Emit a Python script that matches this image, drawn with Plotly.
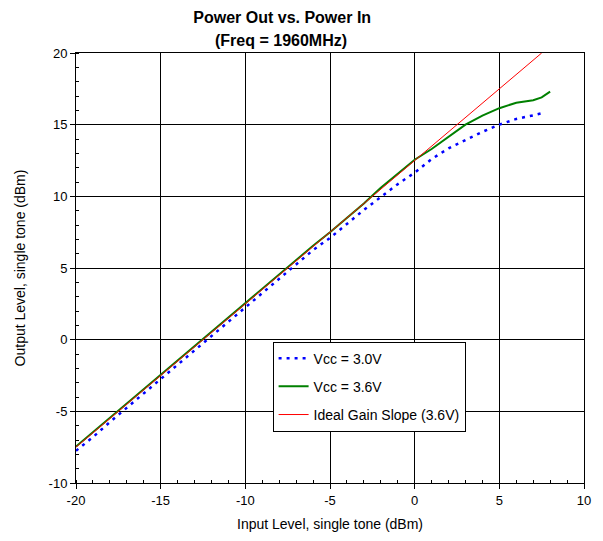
import plotly.graph_objects as go

# Input level (dBm)
pin_30 = [-20, -19, -18, -17, -16, -15, -14, -13, -12, -11, -10, -9, -8, -7, -6,
          -5, -4, -3, -2, -1, 0, 1, 2, 3, 4, 5, 6, 7, 7.7]
pout_30 = [-7.75, -6.8, -5.75, -4.75, -3.75, -2.8, -1.8, -0.8, 0.2, 1.2, 2.2, 3.2, 4.2, 5.2, 6.25,
           7.1, 8.1, 9.05, 9.95, 10.85, 11.65, 12.6, 13.35, 13.95, 14.5, 15.0, 15.4, 15.65, 15.85]

pin_36 = [-20, -19, -18, -17, -16, -15, -14, -13, -12, -11, -10, -9, -8, -7, -6,
          -5, -4, -3, -2, -1, 0, 1, 2, 3, 4, 5, 6, 7, 7.5, 8]
pout_36 = [-7.45, -6.45, -5.45, -4.4, -3.45, -2.45, -1.45, -0.45, 0.55, 1.6, 2.6, 3.6, 4.6, 5.55, 6.55,
           7.5, 8.5, 9.5, 10.6, 11.55, 12.55, 13.3, 14.15, 15.0, 15.63, 16.15, 16.53, 16.7, 16.9, 17.3]

pin_ideal = [-20, 7.5]
pout_ideal = [-7.5, 20]

x_ticks = [-20, -15, -10, -5, 0, 5, 10]
y_ticks = [-10, -5, 0, 5, 10, 15, 20]

FONT = "Liberation Sans, Arial, sans-serif"

fig = go.Figure()
fig.add_trace(go.Scatter(x=pin_30, y=pout_30, mode="lines", name="Vcc = 3.0V",
                         legendgroup="a",
                         line=dict(color="#0000ff", width=2.5, dash="3px,5px")))
fig.add_trace(go.Scatter(x=pin_36, y=pout_36, mode="lines", name="Vcc = 3.6V",
                         legendgroup="b",
                         line=dict(color="#008000", width=2)))
fig.add_trace(go.Scatter(x=pin_ideal, y=pout_ideal, mode="lines", name="Ideal Gain Slope (3.6V)",
                         legendgroup="c",
                         line=dict(color="#ff0000", width=1)))

axis_common = dict(
    showline=True, mirror=True, linecolor="black", linewidth=1,
    showgrid=True, gridcolor="black", gridwidth=1, zeroline=False,
    ticks="outside", ticklen=5, tickcolor="black",
    tickfont=dict(family=FONT, size=13, color="black"),
    minor=dict(ticks="inside", ticklen=3, dtick=1, tickcolor="black", showgrid=False),
)

# hyphen-minus labels like the original, instead of plotly's unicode minus
fig.update_xaxes(range=[-20, 10], tickvals=x_ticks, ticktext=[str(v) for v in x_ticks],
                 title=dict(text="Input Level, single tone (dBm)",
                            font=dict(family=FONT, size=14, color="black"), standoff=12),
                 **axis_common)
fig.update_yaxes(range=[-10, 20], tickvals=y_ticks, ticktext=[str(v) for v in y_ticks],
                 title=dict(text="Output Level, single tone (dBm)",
                            font=dict(family=FONT, size=14, color="black"), standoff=19),
                 **axis_common)

title_font = dict(family=FONT, size=16, color="black")
fig.update_layout(
    width=603, height=541,
    margin=dict(l=76, r=15, t=53, b=58),
    paper_bgcolor="white", plot_bgcolor="white",
    title=dict(text="<b>Power Out vs. Power In</b>", font=title_font,
               x=0.468, xanchor="center", yref="container", y=1 - 17 / 541, yanchor="middle"),
    legend=dict(x=0.387, y=0.329, xanchor="left", yanchor="top",
                bgcolor="white", bordercolor="black", borderwidth=1,
                tracegroupgap=7,
                font=dict(family=FONT, size=14, color="black")),
    showlegend=True,
)
# second title line, a bit further down than a <br> would give
fig.add_annotation(text="<b>(Freq = 1960MHz)</b>", font=title_font, showarrow=False,
                   xref="paper", yref="paper", x=(283 - 76) / 512, y=1 + 13 / 430,
                   xanchor="center", yanchor="middle")

fig.write_html("out.html", config={"displayModeBar": False},
               post_script="document.body.style.margin='0';document.body.style.overflow='hidden';")
